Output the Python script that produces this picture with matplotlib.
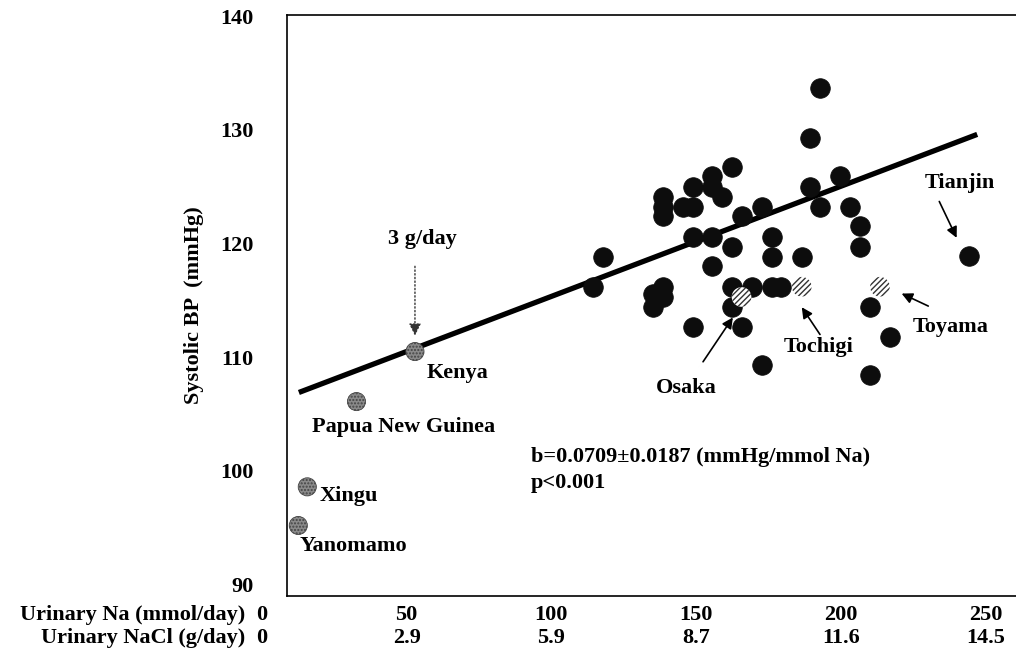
import matplotlib
matplotlib.use("Agg")
import matplotlib.pyplot as plt
from matplotlib.transforms import blended_transform_factory

plt.rcParams['font.family'] = ['Liberation Serif', 'DejaVu Serif']
plt.rcParams['font.weight'] = 'bold'
plt.rcParams['hatch.linewidth'] = 1.0

# populations (urinary Na mmol/day, systolic BP mmHg)
black_na = [192.8, 189.3, 162.3, 155.4, 155.4, 158.8, 148.8, 138.6, 138.6, 138.6,
            145.6, 149.0, 172.6, 165.7, 189.3, 192.8, 199.7, 203.1, 206.6, 206.6,
            148.8, 155.4, 162.3, 176.1, 176.1, 186.5, 155.4, 117.9, 114.5, 138.6,
            138.6, 135.2, 135.2, 162.3, 169.2, 176.1, 179.5, 162.3, 165.7, 149.0,
            172.6, 210.0, 217.0, 210.0, 244.2]
black_bp = [133.7, 129.3, 126.7, 125.9, 125.0, 124.1, 125.0, 124.1, 123.2, 122.4,
            123.2, 123.2, 123.2, 122.4, 125.0, 123.2, 125.9, 123.2, 121.5, 119.7,
            120.6, 120.6, 119.7, 120.6, 118.8, 118.8, 118.0, 118.8, 116.2, 116.2,
            115.3, 115.6, 114.4, 116.2, 116.2, 116.2, 116.2, 114.4, 112.7, 112.7,
            109.3, 114.4, 111.8, 108.4, 118.9]

# Japanese centres (hatched)
jp_names = ["Osaka", "Tochigi", "Toyama"]
jp_na = [165.7, 186.5, 213.5]
jp_bp = [115.3, 116.2, 116.2]

# low-salt populations (grey)
low_names = ["Yanomamo", "Xingu", "Papua New Guinea", "Kenya"]
low_na = [12.6, 15.7, 32.7, 52.9]
low_bp = [95.2, 98.6, 106.1, 110.5]

# regression line ends
line_na = [12.8, 247.1]
line_bp = [106.9, 129.6]

na_ticks = [0, 50, 100, 150, 200, 250]
nacl_labels = ["0", "2.9", "5.9", "8.7", "11.6", "14.5"]
bp_ticks = [90, 100, 110, 120, 130, 140]

fs = 16

fig = plt.figure(figsize=(10.16, 6.5), dpi=100)
ax = fig.add_axes([287 / 1016, 54 / 650, 729 / 1016, 581 / 650])

ax.plot(line_na, line_bp, color='black', lw=3.8, solid_capstyle='butt', zorder=2)
ax.scatter(black_na, black_bp, s=200, facecolor='#0d0d0d', edgecolor='#0d0d0d',
           linewidth=0.5, zorder=3)
ax.scatter(low_na, low_bp, s=170, facecolor='#8a8a8a', edgecolor='#444444',
           hatch='.....', linewidth=0.6, zorder=3)
ax.scatter(jp_na, jp_bp, s=200, facecolor='white', edgecolor='#333333',
           hatch='//////', linewidth=0, zorder=3)

ax.set_xlim(8.7, 260.5)
ax.set_ylim(89.0, 140.1)
ax.set_xticks([])
ax.set_yticks(bp_ticks)
ax.tick_params(axis='y', length=0, pad=24, labelsize=fs)
for lab in ax.get_yticklabels():
    lab.set_fontweight('bold')
ax.spines['right'].set_visible(False)
for sp in ['left', 'top', 'bottom']:
    ax.spines[sp].set_linewidth(1.2)
ax.set_ylabel("Systolic BP  (mmHg)", fontsize=fs, fontweight='bold', labelpad=12)

# two rows of x labels under the axes
trans = blended_transform_factory(ax.transData, ax.transAxes)
for v, lab in zip(na_ticks, nacl_labels):
    ax.text(v, -0.033, str(v), transform=trans, ha='center', va='center',
            fontsize=fs, fontweight='bold', clip_on=False)
    ax.text(v, -0.073, lab, transform=trans, ha='center', va='center',
            fontsize=fs, fontweight='bold', clip_on=False)
fig.text(245 / 1016, 1 - 615 / 650, "Urinary Na (mmol/day)", ha='right', va='center',
         fontsize=fs, fontweight='bold')
fig.text(245 / 1016, 1 - 638 / 650, "Urinary NaCl (g/day)", ha='right', va='center',
         fontsize=fs, fontweight='bold')

# point labels
ax.text(56.9, 108.6, "Kenya", ha='left', va='center', fontsize=fs)
ax.text(17.2, 103.9, "Papua New Guinea", ha='left', va='center', fontsize=fs)
ax.text(20.1, 97.8, "Xingu", ha='left', va='center', fontsize=fs)
ax.text(13.2, 93.4, "Yanomamo", ha='left', va='center', fontsize=fs)

ax.text(55.5, 120.4, "3 g/day", ha='center', va='center', fontsize=fs)
ax.annotate("", xy=(52.9, 111.9), xytext=(52.9, 118.0),
            arrowprops=dict(arrowstyle='-|>', color='#333333', lw=1.0, ls=':',
                            mutation_scale=18, shrinkA=0, shrinkB=0))

ax.text(146.5, 107.3, "Osaka", ha='center', va='center', fontsize=fs)
ax.text(192.4, 110.9, "Tochigi", ha='center', va='center', fontsize=fs)
ax.text(238.0, 112.7, "Toyama", ha='center', va='center', fontsize=fs)
ax.text(241.1, 125.3, "Tianjin", ha='center', va='center', fontsize=fs)

arrow = dict(arrowstyle='-|>', color='black', lw=1.2, mutation_scale=16,
             shrinkA=0, shrinkB=0)
ax.annotate("", xy=(162.7, 113.5), xytext=(152.4, 109.6), arrowprops=arrow)
ax.annotate("", xy=(186.5, 114.4), xytext=(192.8, 112.0), arrowprops=arrow)
ax.annotate("", xy=(221.0, 115.6), xytext=(230.2, 114.5), arrowprops=arrow)
ax.annotate("", xy=(240.0, 120.5), xytext=(234.0, 123.7), arrowprops=arrow)

ax.text(93.0, 101.2, "b=0.0709\u00b10.0187 (mmHg/mmol Na)", ha='left', va='center',
        fontsize=fs)
ax.text(93.0, 98.9, "p<0.001", ha='left', va='center', fontsize=fs)

fig.savefig("out.png", dpi=100)
